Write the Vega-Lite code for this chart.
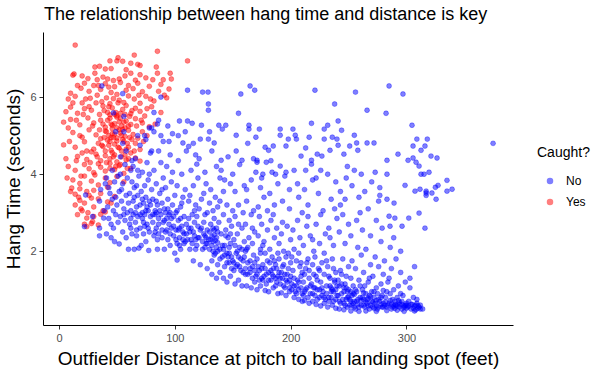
{
"$schema":"https://vega.github.io/schema/vega-lite/v6.json",
"width":470,"height":293,
"autosize":{"type":"none"},
"padding":{"left":43,"top":32,"right":93,"bottom":49},
"background":"white",
"title":{"text":"The relationship between hang time and distance is key","anchor":"start","frame":"group","font":"Liberation Sans","fontSize":18,"fontWeight":"normal","color":"black","offset":8,"dx":1},
"config":{"view":{"stroke":null},"axis":{"grid":false,"domainColor":"black","domainWidth":1,"tickColor":"#333333","tickSize":4,"labelColor":"#4D4D4D","labelFont":"Liberation Sans","labelFontSize":11,"titleFont":"Liberation Sans","titleFontSize":19,"titleFontWeight":"normal","titleColor":"black"},"legend":{"titleFont":"Liberation Sans","labelFont":"Liberation Sans"}},
"data":{"values":[
{"d":14,"h":7.35,"c":"Yes"},{"d":85,"h":7.19,"c":"Yes"},{"d":65,"h":7.09,"c":"Yes"},{"d":51,"h":7.02,"c":"Yes"},
{"d":31,"h":6.78,"c":"Yes"},{"d":35,"h":6.80,"c":"Yes"},{"d":40,"h":6.73,"c":"Yes"},{"d":44,"h":6.94,"c":"Yes"},{"d":45,"h":6.74,"c":"Yes"},{"d":50,"h":6.94,"c":"Yes"},{"d":55,"h":6.93,"c":"Yes"},{"d":62,"h":6.88,"c":"Yes"},{"d":68,"h":6.85,"c":"Yes"},{"d":70,"h":6.82,"c":"Yes"},{"d":84,"h":6.78,"c":"Yes"},{"d":111,"h":6.94,"c":"Yes"},{"d":58,"h":6.71,"c":"Yes"},
{"d":12,"h":6.57,"c":"Yes"},{"d":13,"h":6.60,"c":"Yes"},{"d":25,"h":6.48,"c":"Yes"},{"d":31,"h":6.62,"c":"Yes"},{"d":33,"h":6.45,"c":"Yes"},{"d":38,"h":6.52,"c":"Yes"},{"d":42,"h":6.47,"c":"Yes"},{"d":47,"h":6.43,"c":"Yes"},{"d":52,"h":6.47,"c":"Yes"},{"d":57,"h":6.55,"c":"Yes"},{"d":62,"h":6.62,"c":"Yes"},{"d":66,"h":6.44,"c":"Yes"},{"d":70,"h":6.58,"c":"Yes"},{"d":85,"h":6.62,"c":"Yes"},{"d":90,"h":6.45,"c":"Yes"},{"d":96,"h":6.62,"c":"Yes"},{"d":97,"h":6.47,"c":"Yes"},{"d":75,"h":6.50,"c":"Yes"},
{"d":19,"h":6.23,"c":"Yes"},{"d":22,"h":6.36,"c":"Yes"},{"d":26,"h":6.15,"c":"Yes"},{"d":30,"h":6.30,"c":"Yes"},{"d":36,"h":6.20,"c":"Yes"},{"d":40,"h":6.35,"c":"Yes"},{"d":45,"h":6.12,"c":"Yes"},{"d":48,"h":6.27,"c":"Yes"},{"d":53,"h":6.38,"c":"Yes"},{"d":58,"h":6.18,"c":"Yes"},{"d":60,"h":6.30,"c":"Yes"},{"d":64,"h":6.22,"c":"Yes"},{"d":68,"h":6.36,"c":"Yes"},{"d":72,"h":6.14,"c":"Yes"},{"d":78,"h":6.28,"c":"Yes"},{"d":88,"h":6.33,"c":"Yes"},{"d":95,"h":6.21,"c":"Yes"},{"d":43,"h":6.26,"c":"Yes"},
{"d":8,"h":5.95,"c":"Yes"},{"d":14,"h":6.02,"c":"Yes"},{"d":20,"h":5.85,"c":"Yes"},{"d":27,"h":5.97,"c":"Yes"},{"d":33,"h":6.05,"c":"Yes"},{"d":37,"h":5.88,"c":"Yes"},{"d":41,"h":5.98,"c":"Yes"},{"d":44,"h":5.83,"c":"Yes"},{"d":50,"h":6.07,"c":"Yes"},{"d":52,"h":5.92,"c":"Yes"},{"d":56,"h":5.86,"c":"Yes"},{"d":60,"h":6.03,"c":"Yes"},{"d":65,"h":5.95,"c":"Yes"},{"d":70,"h":5.84,"c":"Yes"},{"d":75,"h":6.02,"c":"Yes"},{"d":82,"h":5.90,"c":"Yes"},{"d":93,"h":5.98,"c":"Yes"},{"d":47,"h":5.96,"c":"Yes"},
{"d":6,"h":5.62,"c":"Yes"},{"d":10,"h":5.74,"c":"Yes"},{"d":16,"h":5.58,"c":"Yes"},{"d":22,"h":5.70,"c":"Yes"},{"d":28,"h":5.66,"c":"Yes"},{"d":35,"h":5.55,"c":"Yes"},{"d":38,"h":5.77,"c":"Yes"},{"d":42,"h":5.60,"c":"Yes"},{"d":46,"h":5.72,"c":"Yes"},{"d":50,"h":5.52,"c":"Yes"},{"d":55,"h":5.68,"c":"Yes"},{"d":58,"h":5.78,"c":"Yes"},{"d":62,"h":5.57,"c":"Yes"},{"d":66,"h":5.71,"c":"Yes"},{"d":70,"h":5.63,"c":"Yes"},{"d":74,"h":5.51,"c":"Yes"},{"d":80,"h":5.75,"c":"Yes"},{"d":88,"h":5.60,"c":"Yes"},{"d":53,"h":5.58,"c":"Yes"},{"d":44,"h":5.54,"c":"Yes"},
{"d":4,"h":5.35,"c":"Yes"},{"d":10,"h":5.42,"c":"Yes"},{"d":18,"h":5.28,"c":"Yes"},{"d":25,"h":5.46,"c":"Yes"},{"d":30,"h":5.33,"c":"Yes"},{"d":36,"h":5.40,"c":"Yes"},{"d":40,"h":5.22,"c":"Yes"},{"d":44,"h":5.45,"c":"Yes"},{"d":48,"h":5.31,"c":"Yes"},{"d":50,"h":5.48,"c":"Yes"},{"d":54,"h":5.25,"c":"Yes"},{"d":58,"h":5.38,"c":"Yes"},{"d":62,"h":5.29,"c":"Yes"},{"d":66,"h":5.44,"c":"Yes"},{"d":72,"h":5.33,"c":"Yes"},{"d":78,"h":5.23,"c":"Yes"},{"d":52,"h":5.36,"c":"Yes"},{"d":46,"h":5.27,"c":"Yes"},
{"d":12,"h":5.08,"c":"Yes"},{"d":20,"h":4.96,"c":"Yes"},{"d":26,"h":5.15,"c":"Yes"},{"d":32,"h":5.02,"c":"Yes"},{"d":36,"h":4.92,"c":"Yes"},{"d":40,"h":5.12,"c":"Yes"},{"d":43,"h":5.00,"c":"Yes"},{"d":46,"h":5.18,"c":"Yes"},{"d":50,"h":4.94,"c":"Yes"},{"d":53,"h":5.07,"c":"Yes"},{"d":57,"h":4.98,"c":"Yes"},{"d":60,"h":5.14,"c":"Yes"},{"d":64,"h":5.03,"c":"Yes"},{"d":68,"h":4.93,"c":"Yes"},{"d":72,"h":5.10,"c":"Yes"},{"d":76,"h":5.00,"c":"Yes"},{"d":48,"h":5.04,"c":"Yes"},{"d":55,"h":5.16,"c":"Yes"},
{"d":4,"h":4.76,"c":"Yes"},{"d":14,"h":4.70,"c":"Yes"},{"d":22,"h":4.84,"c":"Yes"},{"d":30,"h":4.65,"c":"Yes"},{"d":34,"h":4.80,"c":"Yes"},{"d":38,"h":4.72,"c":"Yes"},{"d":42,"h":4.88,"c":"Yes"},{"d":45,"h":4.62,"c":"Yes"},{"d":48,"h":4.78,"c":"Yes"},{"d":52,"h":4.68,"c":"Yes"},{"d":56,"h":4.85,"c":"Yes"},{"d":60,"h":4.70,"c":"Yes"},{"d":66,"h":4.80,"c":"Yes"},{"d":70,"h":4.64,"c":"Yes"},{"d":50,"h":4.86,"c":"Yes"},{"d":40,"h":4.60,"c":"Yes"},
{"d":16,"h":4.46,"c":"Yes"},{"d":24,"h":4.38,"c":"Yes"},{"d":32,"h":4.52,"c":"Yes"},{"d":36,"h":4.35,"c":"Yes"},{"d":40,"h":4.48,"c":"Yes"},{"d":44,"h":4.40,"c":"Yes"},{"d":46,"h":4.56,"c":"Yes"},{"d":50,"h":4.32,"c":"Yes"},{"d":54,"h":4.45,"c":"Yes"},{"d":58,"h":4.37,"c":"Yes"},{"d":62,"h":4.55,"c":"Yes"},{"d":66,"h":4.42,"c":"Yes"},{"d":70,"h":4.34,"c":"Yes"},{"d":28,"h":4.58,"c":"Yes"},{"d":48,"h":4.50,"c":"Yes"},
{"d":8,"h":4.20,"c":"Yes"},{"d":14,"h":4.10,"c":"Yes"},{"d":22,"h":4.25,"c":"Yes"},{"d":30,"h":4.04,"c":"Yes"},{"d":36,"h":4.18,"c":"Yes"},{"d":40,"h":4.08,"c":"Yes"},{"d":44,"h":4.28,"c":"Yes"},{"d":48,"h":4.12,"c":"Yes"},{"d":52,"h":4.22,"c":"Yes"},{"d":56,"h":4.02,"c":"Yes"},{"d":62,"h":4.15,"c":"Yes"},{"d":26,"h":4.14,"c":"Yes"},{"d":34,"h":4.27,"c":"Yes"},
{"d":12,"h":3.85,"c":"Yes"},{"d":18,"h":3.76,"c":"Yes"},{"d":22,"h":3.95,"c":"Yes"},{"d":28,"h":3.82,"c":"Yes"},{"d":34,"h":3.72,"c":"Yes"},{"d":40,"h":3.90,"c":"Yes"},{"d":44,"h":3.78,"c":"Yes"},{"d":50,"h":3.94,"c":"Yes"},{"d":56,"h":3.80,"c":"Yes"},{"d":7,"h":3.90,"c":"Yes"},{"d":31,"h":3.98,"c":"Yes"},
{"d":10,"h":3.55,"c":"Yes"},{"d":11,"h":3.64,"c":"Yes"},{"d":14,"h":3.48,"c":"Yes"},{"d":18,"h":3.62,"c":"Yes"},{"d":26,"h":3.45,"c":"Yes"},{"d":30,"h":3.58,"c":"Yes"},{"d":36,"h":3.50,"c":"Yes"},{"d":42,"h":3.66,"c":"Yes"},{"d":48,"h":3.42,"c":"Yes"},{"d":17,"h":3.40,"c":"Yes"},
{"d":14,"h":3.20,"c":"Yes"},{"d":18,"h":3.32,"c":"Yes"},{"d":19,"h":3.10,"c":"Yes"},{"d":22,"h":3.25,"c":"Yes"},{"d":30,"h":3.15,"c":"Yes"},{"d":34,"h":3.36,"c":"Yes"},{"d":38,"h":3.05,"c":"Yes"},{"d":42,"h":3.28,"c":"Yes"},{"d":45,"h":3.25,"c":"Yes"},{"d":28,"h":3.38,"c":"Yes"},
{"d":16,"h":2.95,"c":"Yes"},{"d":20,"h":3.05,"c":"Yes"},{"d":24,"h":2.86,"c":"Yes"},{"d":25,"h":3.00,"c":"Yes"},{"d":30,"h":2.90,"c":"Yes"},{"d":36,"h":2.96,"c":"Yes"},{"d":40,"h":3.02,"c":"Yes"},{"d":29,"h":2.77,"c":"Yes"},
{"d":22,"h":2.70,"c":"Yes"},{"d":24,"h":2.64,"c":"Yes"},{"d":28,"h":2.72,"c":"Yes"},{"d":34,"h":2.68,"c":"Yes"},
{"d":41,"h":5.10,"c":"Yes"},{"d":43,"h":4.75,"c":"Yes"},{"d":45,"h":5.30,"c":"Yes"},{"d":47,"h":4.95,"c":"Yes"},{"d":49,"h":5.60,"c":"Yes"},{"d":51,"h":4.70,"c":"Yes"},{"d":53,"h":5.45,"c":"Yes"},{"d":55,"h":4.90,"c":"Yes"},{"d":57,"h":5.20,"c":"Yes"},{"d":59,"h":4.80,"c":"Yes"},{"d":61,"h":5.50,"c":"Yes"},{"d":42,"h":5.40,"c":"Yes"},{"d":44,"h":4.85,"c":"Yes"},{"d":46,"h":5.05,"c":"Yes"},{"d":48,"h":5.55,"c":"Yes"},{"d":52,"h":5.15,"c":"Yes"},{"d":54,"h":4.60,"c":"Yes"},{"d":56,"h":5.35,"c":"Yes"},{"d":58,"h":4.65,"c":"Yes"},{"d":60,"h":5.25,"c":"Yes"},{"d":39,"h":4.95,"c":"Yes"},{"d":63,"h":4.90,"c":"Yes"},{"d":50,"h":5.20,"c":"Yes"},{"d":47,"h":4.45,"c":"Yes"},{"d":53,"h":4.25,"c":"Yes"},{"d":57,"h":4.50,"c":"Yes"},{"d":44,"h":4.15,"c":"Yes"},{"d":60,"h":4.40,"c":"Yes"},{"d":38,"h":5.30,"c":"Yes"},{"d":35,"h":5.15,"c":"Yes"},
{"d":8,"h":5.20,"c":"Yes"},{"d":10,"h":6.10,"c":"Yes"},{"d":12,"h":5.85,"c":"Yes"},{"d":15,"h":5.40,"c":"Yes"},{"d":16,"h":6.30,"c":"Yes"},{"d":18,"h":5.00,"c":"Yes"},{"d":20,"h":6.55,"c":"Yes"},{"d":21,"h":5.55,"c":"Yes"},{"d":23,"h":5.95,"c":"Yes"},{"d":24,"h":4.60,"c":"Yes"},{"d":26,"h":5.75,"c":"Yes"},{"d":27,"h":4.30,"c":"Yes"},{"d":29,"h":5.25,"c":"Yes"},{"d":32,"h":5.85,"c":"Yes"},{"d":33,"h":4.45,"c":"Yes"},{"d":34,"h":6.30,"c":"Yes"},{"d":37,"h":4.75,"c":"Yes"},{"d":39,"h":5.65,"c":"Yes"},{"d":41,"h":4.30,"c":"Yes"},{"d":43,"h":5.75,"c":"Yes"},{"d":45,"h":4.95,"c":"Yes"},{"d":49,"h":4.20,"c":"Yes"},{"d":51,"h":5.85,"c":"Yes"},{"d":54,"h":5.00,"c":"Yes"},{"d":57,"h":5.55,"c":"Yes"},{"d":59,"h":4.15,"c":"Yes"},{"d":61,"h":4.95,"c":"Yes"},{"d":63,"h":5.65,"c":"Yes"},{"d":65,"h":4.60,"c":"Yes"},{"d":67,"h":5.25,"c":"Yes"},{"d":69,"h":6.05,"c":"Yes"},{"d":71,"h":5.40,"c":"Yes"},{"d":73,"h":4.85,"c":"Yes"},{"d":76,"h":5.70,"c":"Yes"},{"d":79,"h":5.95,"c":"Yes"},{"d":81,"h":6.45,"c":"Yes"},{"d":83,"h":5.30,"c":"Yes"},{"d":86,"h":6.15,"c":"Yes"},{"d":91,"h":6.05,"c":"Yes"},{"d":15,"h":4.35,"c":"Yes"},{"d":19,"h":3.95,"c":"Yes"},{"d":24,"h":3.55,"c":"Yes"},{"d":20,"h":4.55,"c":"Yes"},{"d":9,"h":4.85,"c":"Yes"},{"d":6,"h":4.40,"c":"Yes"},
{"d":37,"h":6.29,"c":"No"},{"d":55,"h":6.09,"c":"No"},{"d":47,"h":5.59,"c":"No"},{"d":56,"h":5.50,"c":"No"},{"d":56,"h":5.10,"c":"No"},{"d":49,"h":5.10,"c":"No"},{"d":55,"h":4.80,"c":"No"},{"d":74,"h":5.00,"c":"No"},{"d":78,"h":5.20,"c":"No"},{"d":82,"h":5.60,"c":"No"},{"d":86,"h":5.40,"c":"No"},{"d":88,"h":6.00,"c":"No"},{"d":80,"h":4.60,"c":"No"},{"d":63,"h":4.35,"c":"No"},{"d":68,"h":4.10,"c":"No"},{"d":40,"h":3.75,"c":"No"},
{"d":22,"h":2.64,"c":"No"},{"d":23,"h":3.46,"c":"No"},{"d":29,"h":2.90,"c":"No"},{"d":35,"h":2.60,"c":"No"},{"d":38.6,"h":2.86,"c":"No"},{"d":35,"h":2.40,"c":"No"},{"d":35,"h":3.30,"c":"No"},{"d":39,"h":3.05,"c":"No"},{"d":36,"h":3.60,"c":"No"},
{"d":41,"h":2.45,"c":"No"},{"d":42,"h":3.15,"c":"No"},{"d":43,"h":2.85,"c":"No"},{"d":44,"h":3.50,"c":"No"},{"d":45,"h":2.70,"c":"No"},{"d":46,"h":3.35,"c":"No"},{"d":47,"h":3.05,"c":"No"},{"d":48,"h":2.25,"c":"No"},{"d":48,"h":3.80,"c":"No"},{"d":49,"h":2.95,"c":"No"},{"d":43,"h":3.65,"c":"No"},{"d":46,"h":4.10,"c":"No"},{"d":49,"h":3.40,"c":"No"},{"d":41,"h":3.90,"c":"No"},{"d":45,"h":2.35,"c":"No"},{"d":47,"h":2.60,"c":"No"},
{"d":50,"h":3.20,"c":"No"},{"d":51,"h":2.75,"c":"No"},{"d":52,"h":3.55,"c":"No"},{"d":53,"h":2.90,"c":"No"},{"d":53,"h":4.00,"c":"No"},{"d":54,"h":3.30,"c":"No"},{"d":55,"h":2.50,"c":"No"},{"d":55,"h":3.75,"c":"No"},{"d":56,"h":3.10,"c":"No"},{"d":57,"h":2.80,"c":"No"},{"d":57,"h":4.25,"c":"No"},{"d":58,"h":3.45,"c":"No"},{"d":58,"h":2.35,"c":"No"},{"d":59,"h":3.00,"c":"No"},{"d":59,"h":3.90,"c":"No"},{"d":51,"h":3.95,"c":"No"},{"d":52,"h":2.19,"c":"No"},{"d":54,"h":3.60,"c":"No"},{"d":56,"h":2.95,"c":"No"},{"d":60,"h":3.25,"c":"No"},{"d":53,"h":4.45,"c":"No"},{"d":58,"h":4.60,"c":"No"},
{"d":60,"h":2.05,"c":"No"},{"d":61,"h":2.70,"c":"No"},{"d":61,"h":3.50,"c":"No"},{"d":62,"h":3.05,"c":"No"},{"d":62,"h":4.10,"c":"No"},{"d":63,"h":2.45,"c":"No"},{"d":63,"h":3.80,"c":"No"},{"d":64,"h":2.95,"c":"No"},{"d":64,"h":3.30,"c":"No"},{"d":65,"h":2.05,"c":"No"},{"d":65,"h":3.65,"c":"No"},{"d":66,"h":2.75,"c":"No"},{"d":66,"h":4.40,"c":"No"},{"d":67,"h":3.15,"c":"No"},{"d":67,"h":2.55,"c":"No"},{"d":68,"h":3.45,"c":"No"},{"d":68,"h":2.90,"c":"No"},{"d":69,"h":3.95,"c":"No"},{"d":69,"h":2.08,"c":"No"},{"d":70,"h":3.20,"c":"No"},{"d":62,"h":2.60,"c":"No"},{"d":64,"h":4.20,"c":"No"},{"d":66,"h":3.00,"c":"No"},{"d":68,"h":5.00,"c":"No"},{"d":70,"h":4.75,"c":"No"},{"d":67,"h":3.70,"c":"No"},
{"d":70,"h":2.60,"c":"No"},{"d":71,"h":3.55,"c":"No"},{"d":71,"h":2.15,"c":"No"},{"d":72,"h":2.85,"c":"No"},{"d":72,"h":4.05,"c":"No"},{"d":73,"h":3.25,"c":"No"},{"d":73,"h":2.45,"c":"No"},{"d":74,"h":3.70,"c":"No"},{"d":74,"h":2.95,"c":"No"},{"d":75,"h":2.25,"c":"No"},{"d":75,"h":3.40,"c":"No"},{"d":76,"h":4.30,"c":"No"},{"d":76,"h":2.70,"c":"No"},{"d":77,"h":3.05,"c":"No"},{"d":77,"h":3.85,"c":"No"},{"d":78,"h":2.50,"c":"No"},{"d":78,"h":3.30,"c":"No"},{"d":79,"h":2.90,"c":"No"},{"d":79,"h":4.55,"c":"No"},{"d":77.5,"h":2.02,"c":"No"},{"d":80,"h":3.60,"c":"No"},{"d":72,"h":3.00,"c":"No"},{"d":74,"h":2.65,"c":"No"},{"d":76,"h":3.15,"c":"No"},{"d":78,"h":4.00,"c":"No"},{"d":80,"h":5.20,"c":"No"},{"d":75,"h":4.90,"c":"No"},
{"d":81,"h":2.75,"c":"No"},{"d":81,"h":3.35,"c":"No"},{"d":82,"h":2.40,"c":"No"},{"d":82,"h":4.10,"c":"No"},{"d":83,"h":3.05,"c":"No"},{"d":83,"h":2.95,"c":"No"},{"d":84,"h":2.60,"c":"No"},{"d":84,"h":3.75,"c":"No"},{"d":85,"h":2.30,"c":"No"},{"d":85,"h":3.20,"c":"No"},{"d":86,"h":4.60,"c":"No"},{"d":86,"h":2.85,"c":"No"},{"d":87,"h":3.50,"c":"No"},{"d":85,"h":2.05,"c":"No"},{"d":88,"h":2.95,"c":"No"},{"d":88,"h":4.30,"c":"No"},{"d":89,"h":3.25,"c":"No"},{"d":89,"h":2.55,"c":"No"},{"d":90,"h":3.90,"c":"No"},{"d":90,"h":2.75,"c":"No"},{"d":82,"h":5.10,"c":"No"},{"d":85,"h":5.30,"c":"No"},{"d":88,"h":5.00,"c":"No"},{"d":90,"h":4.85,"c":"No"},{"d":84,"h":3.00,"c":"No"},{"d":86,"h":2.45,"c":"No"},{"d":89,"h":3.60,"c":"No"},
{"d":91,"h":2.05,"c":"No"},{"d":91,"h":3.10,"c":"No"},{"d":92,"h":2.50,"c":"No"},{"d":92,"h":3.65,"c":"No"},{"d":93,"h":2.85,"c":"No"},{"d":93,"h":4.20,"c":"No"},{"d":94,"h":2.30,"c":"No"},{"d":94,"h":3.35,"c":"No"},{"d":95,"h":2.70,"c":"No"},{"d":95,"h":4.85,"c":"No"},{"d":96,"h":3.00,"c":"No"},{"d":96,"h":2.15,"c":"No"},{"d":97,"h":3.80,"c":"No"},{"d":97,"h":2.60,"c":"No"},{"d":98,"h":3.20,"c":"No"},{"d":98,"h":5.05,"c":"No"},{"d":99,"h":2.40,"c":"No"},{"d":99,"h":2.90,"c":"No"},{"d":100,"h":3.45,"c":"No"},{"d":100,"h":1.95,"c":"No"},{"d":94,"h":5.25,"c":"No"},{"d":96,"h":4.50,"c":"No"},{"d":98,"h":4.05,"c":"No"},{"d":92,"h":3.00,"c":"No"},{"d":95,"h":2.95,"c":"No"},
{"d":101,"h":2.55,"c":"No"},{"d":101,"h":3.00,"c":"No"},{"d":102,"h":2.20,"c":"No"},{"d":102,"h":3.70,"c":"No"},{"d":103,"h":2.80,"c":"No"},{"d":103,"h":4.35,"c":"No"},{"d":104,"h":2.35,"c":"No"},{"d":104,"h":5.38,"c":"No"},{"d":105,"h":3.15,"c":"No"},{"d":105,"h":2.05,"c":"No"},{"d":106,"h":2.65,"c":"No"},{"d":106,"h":4.00,"c":"No"},{"d":107,"h":3.40,"c":"No"},{"d":107,"h":4.81,"c":"No"},{"d":108,"h":2.45,"c":"No"},{"d":108,"h":2.90,"c":"No"},{"d":102,"h":1.77,"c":"No"},{"d":109,"h":3.60,"c":"No"},{"d":110,"h":2.70,"c":"No"},{"d":110,"h":4.60,"c":"No"},{"d":102,"h":3.05,"c":"No"},{"d":104,"h":2.60,"c":"No"},{"d":106,"h":3.25,"c":"No"},{"d":108,"h":2.20,"c":"No"},{"d":103,"h":5.00,"c":"No"},{"d":109,"h":5.10,"c":"No"},{"d":104,"h":2.15,"c":"No"},{"d":107,"h":2.30,"c":"No"},
{"d":111,"h":6.18,"c":"No"},{"d":111,"h":5.38,"c":"No"},{"d":112,"h":4.72,"c":"No"},{"d":111,"h":2.30,"c":"No"},{"d":112,"h":2.85,"c":"No"},{"d":113,"h":2.05,"c":"No"},{"d":113,"h":3.45,"c":"No"},{"d":114,"h":2.60,"c":"No"},{"d":114,"h":4.10,"c":"No"},{"d":115,"h":5.32,"c":"No"},{"d":115,"h":2.95,"c":"No"},{"d":116,"h":1.75,"c":"No"},{"d":116,"h":3.70,"c":"No"},{"d":117,"h":2.40,"c":"No"},{"d":117,"h":2.75,"c":"No"},{"d":118,"h":3.20,"c":"No"},{"d":118,"h":4.50,"c":"No"},{"d":119,"h":2.15,"c":"No"},{"d":119,"h":4.26,"c":"No"},{"d":120,"h":2.65,"c":"No"},{"d":120,"h":3.90,"c":"No"},{"d":112,"h":3.30,"c":"No"},{"d":115,"h":2.20,"c":"No"},{"d":117,"h":3.05,"c":"No"},{"d":119,"h":2.90,"c":"No"},{"d":113,"h":2.50,"c":"No"},{"d":116,"h":4.80,"c":"No"},{"d":118,"h":2.30,"c":"No"},
{"d":121,"h":2.35,"c":"No"},{"d":121,"h":3.10,"c":"No"},{"d":122,"h":1.65,"c":"No"},{"d":122,"h":4.91,"c":"No"},{"d":123,"h":5.27,"c":"No"},{"d":123,"h":2.60,"c":"No"},{"d":124,"h":6.13,"c":"No"},{"d":124,"h":2.25,"c":"No"},{"d":125,"h":3.50,"c":"No"},{"d":125,"h":2.45,"c":"No"},{"d":126,"h":2.95,"c":"No"},{"d":126,"h":4.05,"c":"No"},{"d":127,"h":2.20,"c":"No"},{"d":127,"h":3.75,"c":"No"},{"d":128,"h":2.55,"c":"No"},{"d":128,"h":1.55,"c":"No"},{"d":129,"h":5.66,"c":"No"},{"d":129,"h":5.82,"c":"No"},{"d":129,"h":2.30,"c":"No"},{"d":130,"h":5.10,"c":"No"},{"d":130,"h":3.25,"c":"No"},{"d":129,"h":4.91,"c":"No"},{"d":128.7,"h":6.13,"c":"No"},{"d":121,"h":4.40,"c":"No"},{"d":123,"h":3.35,"c":"No"},{"d":125,"h":2.75,"c":"No"},{"d":127,"h":2.35,"c":"No"},{"d":128,"h":3.00,"c":"No"},{"d":126,"h":2.10,"c":"No"},{"d":130,"h":2.50,"c":"No"},
{"d":131,"h":2.30,"c":"No"},{"d":132,"h":2.38,"c":"No"},{"d":133,"h":2.25,"c":"No"},{"d":134,"h":2.42,"c":"No"},{"d":135,"h":2.28,"c":"No"},{"d":136,"h":2.35,"c":"No"},{"d":137,"h":2.22,"c":"No"},{"d":132,"h":2.15,"c":"No"},{"d":134,"h":2.55,"c":"No"},{"d":136,"h":2.10,"c":"No"},
{"d":131,"h":2.70,"c":"No"},{"d":131,"h":3.60,"c":"No"},{"d":132,"h":1.75,"c":"No"},{"d":132,"h":4.60,"c":"No"},{"d":133,"h":3.05,"c":"No"},{"d":133,"h":2.00,"c":"No"},{"d":134,"h":4.81,"c":"No"},{"d":134,"h":2.85,"c":"No"},{"d":135,"h":1.95,"c":"No"},{"d":135,"h":3.40,"c":"No"},{"d":136,"h":2.60,"c":"No"},{"d":136,"h":4.20,"c":"No"},{"d":137,"h":1.65,"c":"No"},{"d":137,"h":3.15,"c":"No"},{"d":138,"h":2.75,"c":"No"},{"d":138,"h":5.27,"c":"No"},{"d":139,"h":2.05,"c":"No"},{"d":139,"h":3.90,"c":"No"},{"d":140,"h":2.45,"c":"No"},{"d":140,"h":4.10,"c":"No"},{"d":140,"h":4.36,"c":"No"},{"d":133,"h":2.60,"c":"No"},{"d":137,"h":2.50,"c":"No"},{"d":139,"h":3.30,"c":"No"},{"d":132,"h":1.40,"c":"No"},{"d":136,"h":1.30,"c":"No"},{"d":139,"h":1.45,"c":"No"},
{"d":141,"h":5.17,"c":"No"},{"d":141,"h":1.85,"c":"No"},{"d":142,"h":2.95,"c":"No"},{"d":142,"h":3.55,"c":"No"},{"d":143,"h":2.15,"c":"No"},{"d":143,"h":1.60,"c":"No"},{"d":144,"h":5.27,"c":"No"},{"d":144,"h":2.55,"c":"No"},{"d":145,"h":3.20,"c":"No"},{"d":145,"h":1.95,"c":"No"},{"d":146,"h":4.45,"c":"No"},{"d":146,"h":2.35,"c":"No"},{"d":147,"h":2.80,"c":"No"},{"d":147,"h":1.70,"c":"No"},{"d":148,"h":3.75,"c":"No"},{"d":148,"h":2.20,"c":"No"},{"d":149,"h":1.55,"c":"No"},{"d":149,"h":2.65,"c":"No"},{"d":150,"h":3.05,"c":"No"},{"d":150,"h":4.00,"c":"No"},{"d":142,"h":2.05,"c":"No"},{"d":144,"h":2.40,"c":"No"},{"d":146,"h":1.85,"c":"No"},{"d":148,"h":2.45,"c":"No"},{"d":150,"h":1.75,"c":"No"},{"d":143,"h":3.85,"c":"No"},{"d":147,"h":2.10,"c":"No"},{"d":142,"h":1.30,"c":"No"},{"d":145,"h":1.20,"c":"No"},{"d":148,"h":1.35,"c":"No"},
{"d":151,"h":2.30,"c":"No"},{"d":151,"h":1.50,"c":"No"},{"d":152,"h":2.90,"c":"No"},{"d":152,"h":3.55,"c":"No"},{"d":153,"h":5.01,"c":"No"},{"d":153,"h":1.95,"c":"No"},{"d":154,"h":2.45,"c":"No"},{"d":154,"h":1.65,"c":"No"},{"d":155,"h":5.58,"c":"No"},{"d":155,"h":3.20,"c":"No"},{"d":156,"h":2.10,"c":"No"},{"d":156,"h":4.25,"c":"No"},{"d":157,"h":6.08,"c":"No"},{"d":157,"h":1.80,"c":"No"},{"d":158,"h":4.36,"c":"No"},{"d":158,"h":2.60,"c":"No"},{"d":159,"h":1.45,"c":"No"},{"d":159,"h":3.00,"c":"No"},{"d":160,"h":2.25,"c":"No"},{"d":160,"h":3.70,"c":"No"},{"d":152,"h":2.15,"c":"No"},{"d":154,"h":2.00,"c":"No"},{"d":156,"h":1.60,"c":"No"},{"d":158,"h":2.05,"c":"No"},{"d":160,"h":1.85,"c":"No"},{"d":155,"h":2.70,"c":"No"},{"d":153,"h":4.60,"c":"No"},{"d":152,"h":1.15,"c":"No"},{"d":155,"h":1.25,"c":"No"},{"d":158,"h":1.10,"c":"No"},
{"d":161,"h":1.55,"c":"No"},{"d":161,"h":2.70,"c":"No"},{"d":162,"h":2.05,"c":"No"},{"d":162,"h":3.30,"c":"No"},{"d":163,"h":1.40,"c":"No"},{"d":163,"h":4.80,"c":"No"},{"d":164,"h":5.27,"c":"No"},{"d":164,"h":5.17,"c":"No"},{"d":164,"h":2.35,"c":"No"},{"d":165,"h":6.29,"c":"No"},{"d":165,"h":1.75,"c":"No"},{"d":166,"h":2.95,"c":"No"},{"d":166,"h":3.85,"c":"No"},{"d":167,"h":1.60,"c":"No"},{"d":167,"h":2.20,"c":"No"},{"d":168,"h":4.40,"c":"No"},{"d":168,"h":1.90,"c":"No"},{"d":169,"h":6.18,"c":"No"},{"d":169,"h":2.50,"c":"No"},{"d":170,"h":4.96,"c":"No"},{"d":170,"h":1.35,"c":"No"},{"d":170,"h":4.05,"c":"No"},{"d":161,"h":2.00,"c":"No"},{"d":163,"h":2.10,"c":"No"},{"d":165,"h":1.45,"c":"No"},{"d":167,"h":2.60,"c":"No"},{"d":169,"h":1.70,"c":"No"},{"d":162,"h":3.60,"c":"No"},{"d":168,"h":3.05,"c":"No"},{"d":162,"h":1.10,"c":"No"},{"d":166,"h":1.05,"c":"No"},{"d":169,"h":1.20,"c":"No"},
{"d":171,"h":4.36,"c":"No"},{"d":171,"h":4.31,"c":"No"},{"d":171,"h":1.80,"c":"No"},{"d":172,"h":2.40,"c":"No"},{"d":172,"h":3.15,"c":"No"},{"d":173,"h":1.50,"c":"No"},{"d":173,"h":5.17,"c":"No"},{"d":174,"h":2.05,"c":"No"},{"d":174,"h":3.65,"c":"No"},{"d":175,"h":1.30,"c":"No"},{"d":175,"h":2.70,"c":"No"},{"d":176,"h":4.00,"c":"No"},{"d":176,"h":1.65,"c":"No"},{"d":177,"h":2.25,"c":"No"},{"d":177,"h":3.40,"c":"No"},{"d":178,"h":1.95,"c":"No"},{"d":178,"h":4.70,"c":"No"},{"d":179,"h":4.31,"c":"No"},{"d":179,"h":1.40,"c":"No"},{"d":180,"h":2.55,"c":"No"},{"d":180,"h":3.05,"c":"No"},{"d":172,"h":1.60,"c":"No"},{"d":174,"h":1.95,"c":"No"},{"d":176,"h":2.15,"c":"No"},{"d":178,"h":1.55,"c":"No"},{"d":180,"h":1.75,"c":"No"},{"d":175,"h":3.90,"c":"No"},{"d":173,"h":2.90,"c":"No"},{"d":171,"h":1.00,"c":"No"},{"d":174,"h":1.10,"c":"No"},{"d":178,"h":0.98,"c":"No"},{"d":176,"h":1.25,"c":"No"},
{"d":181,"h":4.62,"c":"No"},{"d":181,"h":1.25,"c":"No"},{"d":182,"h":2.05,"c":"No"},{"d":182,"h":3.50,"c":"No"},{"d":183,"h":1.50,"c":"No"},{"d":183,"h":2.80,"c":"No"},{"d":184,"h":1.85,"c":"No"},{"d":184,"h":4.05,"c":"No"},{"d":185,"h":4.73,"c":"No"},{"d":185,"h":1.35,"c":"No"},{"d":186,"h":2.35,"c":"No"},{"d":186,"h":3.20,"c":"No"},{"d":187,"h":1.65,"c":"No"},{"d":187,"h":4.00,"c":"No"},{"d":188,"h":1.20,"c":"No"},{"d":188,"h":2.60,"c":"No"},{"d":189,"h":1.95,"c":"No"},{"d":189,"h":3.75,"c":"No"},{"d":190,"h":1.45,"c":"No"},{"d":190,"h":2.20,"c":"No"},{"d":182,"h":1.70,"c":"No"},{"d":184,"h":1.40,"c":"No"},{"d":186,"h":1.75,"c":"No"},{"d":188,"h":1.55,"c":"No"},{"d":190,"h":1.80,"c":"No"},{"d":185,"h":2.95,"c":"No"},{"d":183,"h":4.35,"c":"No"},{"d":181,"h":0.95,"c":"No"},{"d":185,"h":1.05,"c":"No"},{"d":189,"h":0.90,"c":"No"},{"d":187,"h":1.30,"c":"No"},
{"d":191,"h":5.17,"c":"No"},{"d":191,"h":5.01,"c":"No"},{"d":191,"h":4.21,"c":"No"},{"d":191,"h":1.30,"c":"No"},{"d":192,"h":2.45,"c":"No"},{"d":193,"h":1.60,"c":"No"},{"d":193,"h":3.30,"c":"No"},{"d":194,"h":1.10,"c":"No"},{"d":194,"h":2.00,"c":"No"},{"d":195,"h":3.95,"c":"No"},{"d":195,"h":1.40,"c":"No"},{"d":196,"h":4.73,"c":"No"},{"d":196,"h":4.05,"c":"No"},{"d":196,"h":1.85,"c":"No"},{"d":197,"h":2.65,"c":"No"},{"d":197,"h":1.20,"c":"No"},{"d":198,"h":4.91,"c":"No"},{"d":198,"h":1.55,"c":"No"},{"d":199,"h":3.10,"c":"No"},{"d":199,"h":1.05,"c":"No"},{"d":200,"h":1.70,"c":"No"},{"d":200,"h":2.30,"c":"No"},{"d":192,"h":1.45,"c":"No"},{"d":194,"h":1.65,"c":"No"},{"d":196,"h":1.25,"c":"No"},{"d":198,"h":1.95,"c":"No"},{"d":200,"h":1.35,"c":"No"},{"d":193,"h":2.75,"c":"No"},{"d":199,"h":3.60,"c":"No"},{"d":192,"h":0.92,"c":"No"},{"d":196,"h":0.85,"c":"No"},{"d":199,"h":0.95,"c":"No"},
{"d":201,"h":1.15,"c":"No"},{"d":202,"h":5.17,"c":"No"},{"d":202,"h":1.50,"c":"No"},{"d":203,"h":4.10,"c":"No"},{"d":203,"h":2.05,"c":"No"},{"d":204,"h":5.01,"c":"No"},{"d":204,"h":0.95,"c":"No"},{"d":205,"h":4.91,"c":"No"},{"d":205,"h":1.75,"c":"No"},{"d":206,"h":2.80,"c":"No"},{"d":206,"h":1.25,"c":"No"},{"d":207,"h":3.40,"c":"No"},{"d":207,"h":1.00,"c":"No"},{"d":208,"h":1.60,"c":"No"},{"d":208,"h":2.35,"c":"No"},{"d":209,"h":4.47,"c":"No"},{"d":209,"h":1.35,"c":"No"},{"d":210,"h":3.00,"c":"No"},{"d":210,"h":0.90,"c":"No"},{"d":201,"h":1.85,"c":"No"},{"d":203,"h":1.30,"c":"No"},{"d":205,"h":1.10,"c":"No"},{"d":207,"h":1.95,"c":"No"},{"d":209,"h":1.70,"c":"No"},{"d":202,"h":2.55,"c":"No"},{"d":206,"h":3.75,"c":"No"},{"d":210,"h":1.45,"c":"No"},{"d":203,"h":0.80,"c":"No"},{"d":207,"h":0.75,"c":"No"},{"d":210,"h":0.70,"c":"No"},
{"d":211,"h":1.20,"c":"No"},{"d":211,"h":2.15,"c":"No"},{"d":212,"h":3.60,"c":"No"},{"d":212,"h":0.95,"c":"No"},{"d":213,"h":4.68,"c":"No"},{"d":213,"h":4.10,"c":"No"},{"d":213,"h":1.55,"c":"No"},{"d":214,"h":1.05,"c":"No"},{"d":214,"h":2.65,"c":"No"},{"d":215,"h":1.80,"c":"No"},{"d":215,"h":3.20,"c":"No"},{"d":216,"h":4.96,"c":"No"},{"d":216,"h":1.30,"c":"No"},{"d":217,"h":0.90,"c":"No"},{"d":217,"h":2.40,"c":"No"},{"d":218,"h":5.32,"c":"No"},{"d":218,"h":4.36,"c":"No"},{"d":218,"h":4.26,"c":"No"},{"d":218,"h":1.15,"c":"No"},{"d":219,"h":1.65,"c":"No"},{"d":219,"h":3.85,"c":"No"},{"d":220,"h":2.00,"c":"No"},{"d":220,"h":1.05,"c":"No"},{"d":212,"h":1.40,"c":"No"},{"d":214,"h":1.70,"c":"No"},{"d":216,"h":1.50,"c":"No"},{"d":220,"h":1.40,"c":"No"},{"d":215,"h":2.90,"c":"No"},{"d":219,"h":2.30,"c":"No"},{"d":212,"h":0.72,"c":"No"},{"d":216,"h":0.65,"c":"No"},{"d":219,"h":0.70,"c":"No"},
{"d":221,"h":6.18,"c":"No"},{"d":221,"h":0.85,"c":"No"},{"d":222,"h":1.35,"c":"No"},{"d":222,"h":2.70,"c":"No"},{"d":223,"h":4.52,"c":"No"},{"d":223,"h":1.00,"c":"No"},{"d":224,"h":3.50,"c":"No"},{"d":224,"h":1.55,"c":"No"},{"d":225,"h":0.80,"c":"No"},{"d":225,"h":2.20,"c":"No"},{"d":226,"h":4.10,"c":"No"},{"d":226,"h":1.20,"c":"No"},{"d":227,"h":4.47,"c":"No"},{"d":227,"h":1.70,"c":"No"},{"d":228,"h":0.95,"c":"No"},{"d":228,"h":3.05,"c":"No"},{"d":229,"h":4.91,"c":"No"},{"d":229,"h":5.17,"c":"No"},{"d":229,"h":1.40,"c":"No"},{"d":230,"h":2.45,"c":"No"},{"d":230,"h":0.75,"c":"No"},{"d":221,"h":1.85,"c":"No"},{"d":223,"h":1.25,"c":"No"},{"d":225,"h":1.50,"c":"No"},{"d":227,"h":1.05,"c":"No"},{"d":229,"h":1.95,"c":"No"},{"d":222,"h":3.90,"c":"No"},{"d":226,"h":2.95,"c":"No"},{"d":222,"h":0.62,"c":"No"},{"d":226,"h":0.58,"c":"No"},{"d":229,"h":0.65,"c":"No"},
{"d":231,"h":1.10,"c":"No"},{"d":232,"h":4.00,"c":"No"},{"d":232,"h":5.27,"c":"No"},{"d":232,"h":1.60,"c":"No"},{"d":233,"h":0.80,"c":"No"},{"d":233,"h":2.60,"c":"No"},{"d":234,"h":4.62,"c":"No"},{"d":234,"h":1.30,"c":"No"},{"d":235,"h":3.35,"c":"No"},{"d":235,"h":0.95,"c":"No"},{"d":236,"h":4.96,"c":"No"},{"d":236,"h":1.80,"c":"No"},{"d":237,"h":0.70,"c":"No"},{"d":237,"h":2.15,"c":"No"},{"d":238,"h":5.82,"c":"No"},{"d":238,"h":1.20,"c":"No"},{"d":239,"h":3.80,"c":"No"},{"d":239,"h":1.45,"c":"No"},{"d":240,"h":4.91,"c":"No"},{"d":240,"h":0.85,"c":"No"},{"d":240,"h":2.85,"c":"No"},{"d":231,"h":1.75,"c":"No"},{"d":233,"h":1.35,"c":"No"},{"d":235,"h":1.05,"c":"No"},{"d":237,"h":1.55,"c":"No"},{"d":239,"h":1.00,"c":"No"},{"d":234,"h":2.35,"c":"No"},{"d":238,"h":3.10,"c":"No"},{"d":232,"h":0.55,"c":"No"},{"d":236,"h":0.60,"c":"No"},{"d":239,"h":0.52,"c":"No"},{"d":234,"h":1.10,"c":"No"},{"d":236,"h":1.00,"c":"No"},{"d":238,"h":1.25,"c":"No"},{"d":240,"h":1.10,"c":"No"},
{"d":241,"h":5.38,"c":"No"},{"d":241,"h":4.75,"c":"No"},{"d":241,"h":1.25,"c":"No"},{"d":242,"h":0.70,"c":"No"},{"d":242,"h":2.50,"c":"No"},{"d":243,"h":1.50,"c":"No"},{"d":243,"h":3.55,"c":"No"},{"d":244,"h":5.14,"c":"No"},{"d":244,"h":0.90,"c":"No"},{"d":245,"h":1.80,"c":"No"},{"d":245,"h":2.95,"c":"No"},{"d":246,"h":4.52,"c":"No"},{"d":246,"h":0.65,"c":"No"},{"d":247,"h":1.15,"c":"No"},{"d":247,"h":2.20,"c":"No"},{"d":248,"h":3.90,"c":"No"},{"d":248,"h":1.35,"c":"No"},{"d":249,"h":0.80,"c":"No"},{"d":249,"h":4.20,"c":"No"},{"d":250,"h":1.00,"c":"No"},{"d":250,"h":2.70,"c":"No"},{"d":242,"h":1.10,"c":"No"},{"d":244,"h":1.40,"c":"No"},{"d":246,"h":1.05,"c":"No"},{"d":248,"h":0.75,"c":"No"},{"d":250,"h":1.60,"c":"No"},{"d":243,"h":3.20,"c":"No"},{"d":247,"h":3.35,"c":"No"},{"d":242,"h":0.50,"c":"No"},{"d":246,"h":0.48,"c":"No"},{"d":249,"h":0.55,"c":"No"},{"d":244,"h":1.15,"c":"No"},{"d":246,"h":0.95,"c":"No"},{"d":248,"h":1.05,"c":"No"},{"d":250,"h":0.82,"c":"No"},
{"d":251,"h":4.73,"c":"No"},{"d":251,"h":0.60,"c":"No"},{"d":252,"h":1.30,"c":"No"},{"d":252,"h":2.40,"c":"No"},{"d":253,"h":0.85,"c":"No"},{"d":253,"h":3.70,"c":"No"},{"d":254,"h":1.10,"c":"No"},{"d":255,"h":4.10,"c":"No"},{"d":255,"h":5.01,"c":"No"},{"d":255,"h":0.70,"c":"No"},{"d":256,"h":6.13,"c":"No"},{"d":256,"h":1.55,"c":"No"},{"d":257,"h":4.81,"c":"No"},{"d":257,"h":0.95,"c":"No"},{"d":258,"h":4.62,"c":"No"},{"d":258,"h":2.10,"c":"No"},{"d":259,"h":0.55,"c":"No"},{"d":259,"h":1.25,"c":"No"},{"d":260,"h":3.00,"c":"No"},{"d":260,"h":0.80,"c":"No"},{"d":252,"h":0.95,"c":"No"},{"d":254,"h":0.65,"c":"No"},{"d":256,"h":1.00,"c":"No"},{"d":258,"h":0.75,"c":"No"},{"d":260,"h":1.10,"c":"No"},{"d":253,"h":1.75,"c":"No"},{"d":257,"h":2.80,"c":"No"},{"d":259,"h":3.40,"c":"No"},{"d":252,"h":0.45,"c":"No"},{"d":256,"h":0.50,"c":"No"},{"d":259,"h":0.44,"c":"No"},{"d":252,"h":0.70,"c":"No"},{"d":254,"h":0.90,"c":"No"},{"d":255,"h":0.88,"c":"No"},{"d":258,"h":0.62,"c":"No"},
{"d":261,"h":4.00,"c":"No"},{"d":261,"h":0.60,"c":"No"},{"d":262,"h":1.00,"c":"No"},{"d":262,"h":2.55,"c":"No"},{"d":263,"h":0.75,"c":"No"},{"d":263,"h":1.45,"c":"No"},{"d":264,"h":3.55,"c":"No"},{"d":264,"h":0.55,"c":"No"},{"d":265,"h":0.90,"c":"No"},{"d":265,"h":2.05,"c":"No"},{"d":266,"h":4.81,"c":"No"},{"d":266,"h":5.66,"c":"No"},{"d":266,"h":0.65,"c":"No"},{"d":267,"h":1.20,"c":"No"},{"d":267,"h":3.10,"c":"No"},{"d":268,"h":0.50,"c":"No"},{"d":268,"h":0.85,"c":"No"},{"d":269,"h":1.65,"c":"No"},{"d":269,"h":2.40,"c":"No"},{"d":270,"h":0.70,"c":"No"},{"d":270,"h":0.95,"c":"No"},{"d":262,"h":0.80,"c":"No"},{"d":264,"h":1.10,"c":"No"},{"d":266,"h":0.75,"c":"No"},{"d":268,"h":1.30,"c":"No"},{"d":263,"h":0.60,"c":"No"},{"d":265,"h":0.68,"c":"No"},{"d":267,"h":0.58,"c":"No"},{"d":269,"h":0.82,"c":"No"},{"d":270,"h":3.80,"c":"No"},{"d":261,"h":1.90,"c":"No"},{"d":261,"h":0.72,"c":"No"},{"d":263,"h":0.92,"c":"No"},{"d":265,"h":0.45,"c":"No"},{"d":267,"h":0.78,"c":"No"},{"d":269,"h":0.60,"c":"No"},
{"d":271,"h":0.55,"c":"No"},{"d":271,"h":1.35,"c":"No"},{"d":272,"h":4.81,"c":"No"},{"d":272,"h":0.80,"c":"No"},{"d":273,"h":4.05,"c":"No"},{"d":273,"h":0.65,"c":"No"},{"d":274,"h":1.05,"c":"No"},{"d":274,"h":2.80,"c":"No"},{"d":275,"h":0.50,"c":"No"},{"d":275,"h":0.90,"c":"No"},{"d":276,"h":1.60,"c":"No"},{"d":276,"h":3.30,"c":"No"},{"d":277,"h":0.70,"c":"No"},{"d":277,"h":3.45,"c":"No"},{"d":278,"h":1.15,"c":"No"},{"d":278,"h":2.25,"c":"No"},{"d":279,"h":0.55,"c":"No"},{"d":279,"h":0.85,"c":"No"},{"d":280,"h":1.40,"c":"No"},{"d":280,"h":0.65,"c":"No"},{"d":272,"h":0.95,"c":"No"},{"d":274,"h":0.58,"c":"No"},{"d":276,"h":0.75,"c":"No"},{"d":278,"h":0.62,"c":"No"},{"d":280,"h":0.98,"c":"No"},{"d":273,"h":1.85,"c":"No"},{"d":277,"h":3.65,"c":"No"},{"d":279,"h":2.60,"c":"No"},{"d":271,"h":0.68,"c":"No"},{"d":272,"h":0.52,"c":"No"},{"d":274,"h":0.44,"c":"No"},{"d":274,"h":0.72,"c":"No"},{"d":276,"h":0.55,"c":"No"},{"d":278,"h":0.80,"c":"No"},{"d":280,"h":0.55,"c":"No"},
{"d":281,"h":0.60,"c":"No"},{"d":282.4,"h":5.58,"c":"No"},{"d":282,"h":0.80,"c":"No"},{"d":283.2,"h":4.36,"c":"No"},{"d":283.2,"h":4.00,"c":"No"},{"d":283,"h":0.55,"c":"No"},{"d":284,"h":1.20,"c":"No"},{"d":283.2,"h":3.35,"c":"No"},{"d":285,"h":6.29,"c":"No"},{"d":285,"h":0.65,"c":"No"},{"d":286,"h":0.90,"c":"No"},{"d":286,"h":2.10,"c":"No"},{"d":287,"h":0.50,"c":"No"},{"d":287,"h":1.55,"c":"No"},{"d":288,"h":0.75,"c":"No"},{"d":285,"h":2.91,"c":"No"},{"d":289,"h":0.58,"c":"No"},{"d":289,"h":1.00,"c":"No"},{"d":290,"h":0.70,"c":"No"},{"d":289.3,"h":3.25,"c":"No"},{"d":281,"h":1.75,"c":"No"},{"d":283,"h":0.95,"c":"No"},{"d":285,"h":1.30,"c":"No"},{"d":287,"h":0.62,"c":"No"},{"d":289,"h":2.35,"c":"No"},{"d":290,"h":0.52,"c":"No"},{"d":290,"h":2.86,"c":"No"},{"d":285.8,"h":2.65,"c":"No"},{"d":282,"h":0.68,"c":"No"},{"d":283,"h":0.46,"c":"No"},{"d":284,"h":0.60,"c":"No"},{"d":286,"h":0.72,"c":"No"},{"d":288,"h":0.55,"c":"No"},{"d":290,"h":0.62,"c":"No"},
{"d":291,"h":0.60,"c":"No"},{"d":292.7,"h":4.52,"c":"No"},{"d":292,"h":0.80,"c":"No"},{"d":293,"h":1.10,"c":"No"},{"d":296.2,"h":2.65,"c":"No"},{"d":294,"h":0.55,"c":"No"},{"d":294,"h":0.68,"c":"No"},{"d":295,"h":1.45,"c":"No"},{"d":295,"h":2.00,"c":"No"},{"d":296,"h":0.62,"c":"No"},{"d":296,"h":0.50,"c":"No"},{"d":297,"h":6.08,"c":"No"},{"d":297,"h":0.85,"c":"No"},{"d":298,"h":0.58,"c":"No"},{"d":299,"h":1.20,"c":"No"},{"d":300,"h":0.65,"c":"No"},{"d":300,"h":0.52,"c":"No"},{"d":291,"h":1.80,"c":"No"},{"d":293,"h":0.72,"c":"No"},{"d":295,"h":0.90,"c":"No"},{"d":299,"h":0.60,"c":"No"},{"d":298.8,"h":3.71,"c":"No"},{"d":292,"h":0.47,"c":"No"},{"d":292,"h":0.58,"c":"No"},{"d":294,"h":0.62,"c":"No"},{"d":296,"h":0.70,"c":"No"},{"d":298,"h":0.44,"c":"No"},{"d":298,"h":0.55,"c":"No"},{"d":300,"h":0.60,"c":"No"},
{"d":301.4,"h":4.36,"c":"No"},{"d":305.7,"h":4.42,"c":"No"},{"d":308.3,"h":4.31,"c":"No"},{"d":310.9,"h":4.21,"c":"No"},{"d":304.8,"h":5.27,"c":"No"},{"d":309,"h":4.91,"c":"No"},{"d":318,"h":4.91,"c":"No"},{"d":305.7,"h":4.73,"c":"No"},{"d":316,"h":4.73,"c":"No"},{"d":312.6,"h":4.62,"c":"No"},{"d":312.6,"h":4.00,"c":"No"},{"d":315.2,"h":4.00,"c":"No"},{"d":319.5,"h":4.05,"c":"No"},{"d":307.4,"h":3.56,"c":"No"},{"d":311.7,"h":3.61,"c":"No"},{"d":317,"h":3.56,"c":"No"},{"d":317,"h":3.51,"c":"No"},{"d":317,"h":3.45,"c":"No"},{"d":310.9,"h":2.99,"c":"No"},{"d":302,"h":2.86,"c":"No"},{"d":316,"h":2.60,"c":"No"},
{"d":301,"h":0.55,"c":"No"},{"d":302,"h":0.70,"c":"No"},{"d":303,"h":1.05,"c":"No"},{"d":304,"h":0.50,"c":"No"},{"d":305,"h":0.62,"c":"No"},{"d":307,"h":0.58,"c":"No"},{"d":308,"h":0.48,"c":"No"},{"d":309,"h":0.65,"c":"No"},{"d":310,"h":0.52,"c":"No"},{"d":312,"h":0.60,"c":"No"},{"d":314,"h":0.50,"c":"No"},{"d":311,"h":0.55,"c":"No"},{"d":306,"h":0.80,"c":"No"},{"d":303,"h":1.30,"c":"No"},{"d":307,"h":1.60,"c":"No"},{"d":309,"h":0.75,"c":"No"},{"d":302,"h":0.58,"c":"No"},{"d":304,"h":0.62,"c":"No"},{"d":306,"h":0.52,"c":"No"},{"d":307,"h":0.45,"c":"No"},{"d":308,"h":0.60,"c":"No"},{"d":310,"h":0.58,"c":"No"},{"d":312,"h":0.50,"c":"No"},
{"d":321.2,"h":4.47,"c":"No"},{"d":326.4,"h":4.42,"c":"No"},{"d":335,"h":3.84,"c":"No"},{"d":322,"h":3.51,"c":"No"},{"d":325,"h":3.66,"c":"No"},{"d":327.3,"h":3.71,"c":"No"},{"d":335,"h":3.56,"c":"No"},{"d":339.4,"h":3.61,"c":"No"},{"d":325.6,"h":3.35,"c":"No"},{"d":374.8,"h":4.80,"c":"No"},
{"d":62,"h":2.85,"c":"No"},{"d":65,"h":3.40,"c":"No"},{"d":67,"h":2.40,"c":"No"},{"d":70,"h":2.95,"c":"No"},{"d":72,"h":3.35,"c":"No"},{"d":73,"h":2.75,"c":"No"},{"d":75,"h":3.05,"c":"No"},{"d":77,"h":2.60,"c":"No"},{"d":79,"h":3.20,"c":"No"},{"d":81,"h":2.95,"c":"No"},{"d":83,"h":2.50,"c":"No"},{"d":84,"h":3.30,"c":"No"},{"d":86,"h":2.70,"c":"No"},{"d":87,"h":3.05,"c":"No"},{"d":89,"h":2.35,"c":"No"},{"d":91,"h":2.80,"c":"No"},{"d":93,"h":2.55,"c":"No"},{"d":94,"h":3.10,"c":"No"},{"d":96,"h":2.45,"c":"No"},{"d":97,"h":2.85,"c":"No"},{"d":99,"h":2.65,"c":"No"},{"d":101,"h":2.30,"c":"No"},{"d":103,"h":2.55,"c":"No"},{"d":105,"h":2.85,"c":"No"},{"d":107,"h":2.50,"c":"No"},{"d":109,"h":2.25,"c":"No"},{"d":110,"h":2.45,"c":"No"},{"d":112,"h":2.60,"c":"No"},{"d":114,"h":2.30,"c":"No"},{"d":116,"h":2.50,"c":"No"},{"d":118,"h":2.05,"c":"No"},{"d":120,"h":2.35,"c":"No"},{"d":122,"h":2.55,"c":"No"},{"d":124,"h":2.05,"c":"No"},{"d":126,"h":2.40,"c":"No"},{"d":128,"h":2.20,"c":"No"},{"d":130,"h":2.05,"c":"No"},
{"d":134,"h":1.90,"c":"No"},{"d":137,"h":2.00,"c":"No"},{"d":139,"h":1.80,"c":"No"},{"d":141,"h":2.15,"c":"No"},{"d":143,"h":1.90,"c":"No"},{"d":145,"h":1.70,"c":"No"},{"d":147,"h":1.95,"c":"No"},{"d":149,"h":1.85,"c":"No"},{"d":151,"h":1.70,"c":"No"},{"d":153,"h":1.60,"c":"No"},{"d":155,"h":1.85,"c":"No"},{"d":157,"h":1.50,"c":"No"},{"d":159,"h":1.75,"c":"No"},{"d":161,"h":1.40,"c":"No"},{"d":163,"h":1.70,"c":"No"},{"d":165,"h":1.55,"c":"No"},{"d":167,"h":1.30,"c":"No"},{"d":169,"h":1.50,"c":"No"},{"d":171,"h":1.40,"c":"No"},{"d":173,"h":1.25,"c":"No"},{"d":175,"h":1.55,"c":"No"},{"d":177,"h":1.35,"c":"No"},{"d":179,"h":1.15,"c":"No"},{"d":181,"h":1.45,"c":"No"},{"d":183,"h":1.25,"c":"No"},{"d":185,"h":1.55,"c":"No"},{"d":187,"h":1.10,"c":"No"},{"d":189,"h":1.35,"c":"No"},{"d":191,"h":1.15,"c":"No"},{"d":193,"h":1.30,"c":"No"},{"d":195,"h":1.05,"c":"No"},{"d":197,"h":1.40,"c":"No"},{"d":199,"h":1.25,"c":"No"},{"d":201,"h":1.00,"c":"No"},{"d":203,"h":1.10,"c":"No"},{"d":205,"h":0.90,"c":"No"},{"d":207,"h":1.20,"c":"No"},{"d":209,"h":1.05,"c":"No"},{"d":211,"h":0.85,"c":"No"},{"d":213,"h":1.00,"c":"No"},{"d":215,"h":0.80,"c":"No"},{"d":217,"h":1.10,"c":"No"},{"d":219,"h":0.90,"c":"No"},{"d":221,"h":1.05,"c":"No"},{"d":223,"h":0.75,"c":"No"},{"d":225,"h":1.00,"c":"No"},{"d":227,"h":0.85,"c":"No"},{"d":229,"h":0.80,"c":"No"},{"d":231,"h":0.90,"c":"No"},{"d":233,"h":0.70,"c":"No"},{"d":235,"h":0.80,"c":"No"},{"d":237,"h":0.95,"c":"No"},{"d":239,"h":0.75,"c":"No"},{"d":241,"h":0.85,"c":"No"},{"d":243,"h":0.65,"c":"No"},{"d":245,"h":0.75,"c":"No"},{"d":247,"h":0.60,"c":"No"},{"d":249,"h":0.95,"c":"No"},{"d":251,"h":0.75,"c":"No"},{"d":253,"h":0.60,"c":"No"},{"d":255,"h":0.55,"c":"No"},{"d":257,"h":0.70,"c":"No"}
]},
"mark":{"type":"point","filled":true,"fillOpacity":0.5,"strokeOpacity":0.5,"strokeWidth":0.7,"size":24},
"encoding":{
"x":{"field":"d","type":"quantitative","title":"Outfielder Distance at pitch to ball landing spot (feet)","scale":{"domain":[-13.8,392],"nice":false,"zero":false},"axis":{"values":[0,100,200,300],"labelPadding":3,"titlePadding":6}},
"y":{"field":"h","type":"quantitative","title":"Hang Time (seconds)","scale":{"domain":[0.086,7.69],"nice":false,"zero":false},"axis":{"values":[2,4,6],"labelPadding":3,"titlePadding":6}},
"color":{"field":"c","type":"nominal","scale":{"domain":["No","Yes"],"range":["#0000FF","#FF0000"]},"legend":{"title":"Caught?","orient":"none","legendX":494,"legendY":114,"titleFontSize":14,"titleFontWeight":"normal","titleColor":"black","labelFontSize":12,"labelColor":"black","symbolSize":25,"symbolOpacity":0.5,"symbolOffset":7,"labelOffset":10,"rowPadding":9,"titlePadding":15}},
"stroke":{"field":"c","type":"nominal","scale":{"domain":["No","Yes"],"range":["#0000FF","#FF0000"]},"legend":null}
}
}
